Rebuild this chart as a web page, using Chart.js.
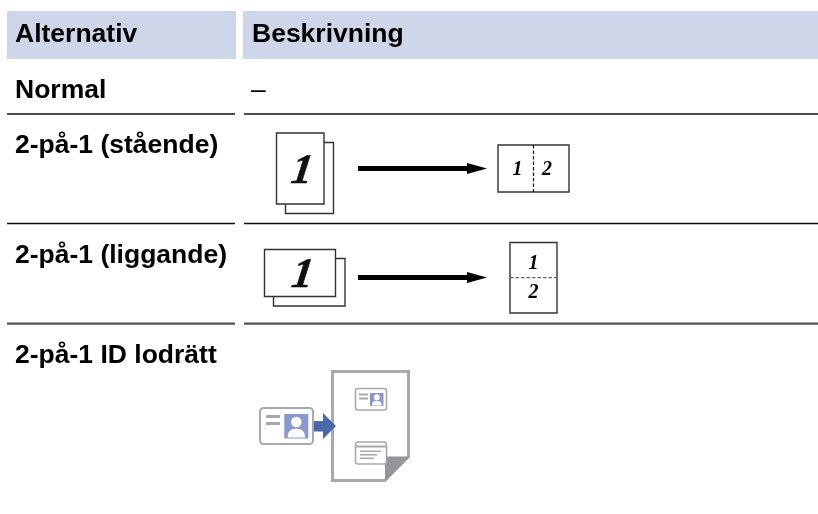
<!DOCTYPE html>
<html>
<head>
<meta charset="utf-8">
<style>html,body{margin:0;padding:0;background:#fff}#w{position:relative;width:818px;height:514px}</style>
<script src="https://cdn.jsdelivr.net/npm/chart.js@4"></script>
</head>
<body>
<div id="w"><canvas id="c" width="818" height="514"></canvas></div>
<script>
const headers = ["Alternativ", "Beskrivning"];
const options = ["Normal", "2-på-1 (stående)", "2-på-1 (liggande)", "2-på-1 ID lodrätt"];
const normalDescription = "–";
const pageNumbers = ["1", "2"];

const HEAD_BLUE = "#cdd7e9", INK = "#000", PAGE = "#333";
const GREY = "#a7a9ac", DARK_GREY = "#939598", BLUE_LIGHT = "#8a98cf", BLUE = "#4c69ab";

const layoutPlugin = {
  id: "layout",
  afterDraw(chart) {
    const { ctx, scales: { x: sx, y: sy } } = chart;
    const X = v => sx.getPixelForValue(v), Y = v => sy.getPixelForValue(v);
    const rect = (x0, y0, x1, y1, fill, stroke, lw) => {
      ctx.beginPath(); ctx.rect(X(x0), Y(y0), X(x1) - X(x0), Y(y1) - Y(y0));
      if (fill) { ctx.fillStyle = fill; ctx.fill(); }
      if (stroke) { ctx.strokeStyle = stroke; ctx.lineWidth = lw; ctx.stroke(); }
    };
    const rrect = (x0, y0, x1, y1, r, fill, stroke, lw) => {
      ctx.beginPath(); ctx.roundRect(X(x0), Y(y0), X(x1) - X(x0), Y(y1) - Y(y0), r);
      if (fill) { ctx.fillStyle = fill; ctx.fill(); }
      if (stroke) { ctx.strokeStyle = stroke; ctx.lineWidth = lw; ctx.stroke(); }
    };
    const poly = (pts, fill) => {
      ctx.beginPath(); pts.forEach((p, i) => i ? ctx.lineTo(X(p[0]), Y(p[1])) : ctx.moveTo(X(p[0]), Y(p[1])));
      ctx.closePath(); ctx.fillStyle = fill; ctx.fill();
    };
    const line = (x0, y0, x1, y1, col, lw, dash) => {
      ctx.save(); ctx.beginPath(); ctx.moveTo(X(x0), Y(y0)); ctx.lineTo(X(x1), Y(y1));
      ctx.strokeStyle = col; ctx.lineWidth = lw; ctx.setLineDash(dash || []); ctx.stroke(); ctx.restore();
    };
    const text = (s, x, y, font, align) => {
      ctx.font = font; ctx.fillStyle = INK; ctx.textAlign = align || "left"; ctx.textBaseline = "alphabetic";
      ctx.fillText(s, X(x), Y(y));
    };
    const bigOne = (x, y) => {
      // heavier, more slanted numeral, as in the reference
      ctx.save();
      ctx.translate(X(x), Y(y));
      ctx.transform(1, 0, -0.14, 1, 0, 0);
      ctx.font = BIG; ctx.fillStyle = "#111"; ctx.strokeStyle = "#111"; ctx.lineWidth = 0.6;
      ctx.textAlign = "center"; ctx.textBaseline = "alphabetic";
      ctx.fillText(pageNumbers[0], 0, 0); ctx.strokeText(pageNumbers[0], 0, 0);
      ctx.restore();
    };
    const SANS_B = 'bold 26.5px "Liberation Sans"', SANS = '26.5px "Liberation Sans"';
    const BIG = 'italic bold 42px "Liberation Serif"', SMALL = 'italic bold 20px "Liberation Serif"';
    const RIGHT = 818;

    ctx.save();
    // header bands
    rect(7, 11, 236, 59, HEAD_BLUE);
    rect(243, 11, RIGHT, 59, HEAD_BLUE);
    text(headers[0], 15, 42, SANS_B);
    text(headers[1], 252, 42, SANS_B);

    // row labels
    text(options[0], 15, 98, SANS_B);
    text(options[1], 15, 153, SANS_B);
    text(options[2], 15, 263, SANS_B);
    text(options[3], 15, 363, SANS_B);
    text(normalDescription, 251, 98, SANS);

    // row rules
    [[114, "#111", 1.7], [223.5, "#111", 1.7], [323.7, "#555", 2.2]].forEach(([y, c, w]) => {
      line(7, y, 235, y, c, w);
      line(244, y, RIGHT, y, c, w);
    });

    // portrait row
    rect(285.5, 142.5, 333.5, 213.5, "#fff", PAGE, 1.4);
    rect(276.5, 133, 324, 204, "#fff", PAGE, 1.4);
    bigOne(300.5, 183);
    rect(358, 166, 468, 171, INK);
    poly([[467, 163], [487, 168.5], [467, 174]], INK);
    rect(498, 145, 569, 192, "#fff", PAGE, 1.4);
    line(533.5, 145, 533.5, 192, "#111", 1.2, [3.5, 2]);
    text(pageNumbers[0], 517.5, 175, SMALL, "center");
    text(pageNumbers[1], 547, 175, SMALL, "center");

    // landscape row
    rect(273.5, 258.5, 345, 306, "#fff", PAGE, 1.4);
    rect(264.5, 249.5, 335.5, 296.5, "#fff", PAGE, 1.4);
    bigOne(301, 287);
    rect(358, 275, 468, 280, INK);
    poly([[467, 272], [487, 277.5], [467, 283]], INK);
    rect(510, 242.5, 557, 313, "#fff", PAGE, 1.4);
    line(510, 277.7, 557, 277.7, "#666", 1.2, [3.5, 2]);
    text(pageNumbers[0], 533.5, 269, SMALL, "center");
    text(pageNumbers[1], 533.5, 298, SMALL, "center");

    // ID icon: sheet
    poly([[331, 370], [410, 370], [410, 457], [385, 482], [331, 482]], GREY);
    poly([[334, 373], [407, 373], [407, 456], [384, 479], [334, 479]], "#fff");
    poly([[385, 456.5], [410, 456.5], [385, 482]], DARK_GREY);

    const person = (x0, y0, x1, y1) => {
      const w = x1 - x0, h = y1 - y0;
      rect(x0, y0, x1, y1, BLUE_LIGHT);
      ctx.beginPath();
      ctx.arc(X(x0 + w / 2), Y(y0 + h * 0.33), w * 0.22, 0, Math.PI * 2);
      ctx.fillStyle = "#fff"; ctx.fill();
      ctx.beginPath();
      ctx.moveTo(X(x0 + w * 0.14), Y(y0 + h * 0.96));
      ctx.quadraticCurveTo(X(x0 + w * 0.12), Y(y0 + h * 0.6), X(x0 + w / 2), Y(y0 + h * 0.6));
      ctx.quadraticCurveTo(X(x0 + w * 0.88), Y(y0 + h * 0.6), X(x0 + w * 0.86), Y(y0 + h * 0.96));
      ctx.closePath(); ctx.fill();
    };

    // big card
    rrect(260, 408, 313, 444, 3.5, "#fff", GREY, 2);
    rect(266, 415, 280, 418, GREY);
    rect(266, 422, 280, 425, GREY);
    person(284.3, 414, 308.3, 438.5);
    // blue arrow
    poly([[314, 421], [323, 421], [323, 413], [336, 426], [323, 439], [323, 431.5], [314, 431.5]], BLUE);

    // small top card
    rrect(355.5, 388.5, 386.5, 410, 2.5, "#fff", GREY, 1.6);
    rect(359, 393.5, 368, 395.5, GREY);
    rect(359, 397.5, 368, 399.5, GREY);
    person(370, 393, 383.5, 406);

    // small bottom card
    rrect(355.5, 442, 386.5, 464, 2.5, "#fff", GREY, 1.6);
    rect(356, 445.5, 386, 447.5, GREY);
    rect(360, 450.5, 381, 452, GREY);
    rect(360, 454, 377, 455.5, GREY);
    rect(360, 457.5, 374, 459, GREY);
    ctx.restore();
  }
};

new Chart(document.getElementById("c"), {
  type: "scatter",
  data: { datasets: [{ data: [] }] },
  options: {
    responsive: false, animation: false, events: [],
    layout: { padding: 0 },
    plugins: { legend: { display: false }, tooltip: { enabled: false } },
    scales: {
      x: { type: "linear", min: 0, max: 818, display: false },
      y: { type: "linear", min: 0, max: 514, reverse: true, display: false }
    }
  },
  plugins: [layoutPlugin]
});
</script>
</body>
</html>
